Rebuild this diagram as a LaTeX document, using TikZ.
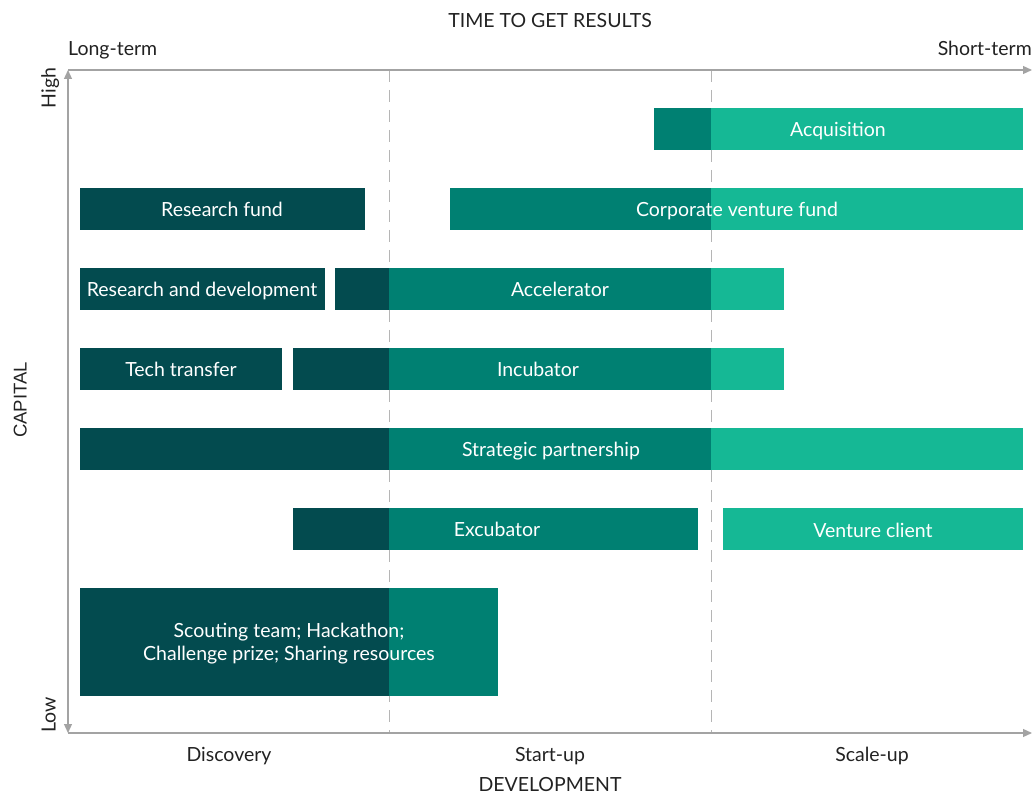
\documentclass[tikz,border=0pt]{standalone}
\usepackage{fontspec}
\setmainfont{Lato}
\newfontfamily\capfont{Liberation Sans}
\usetikzlibrary{arrows.meta}

\definecolor{deepteal}{HTML}{034B4F}
\definecolor{midteal}{HTML}{008072}
\definecolor{lightteal}{HTML}{15B895}
\definecolor{axisgrey}{HTML}{A3A3A3}
\definecolor{textgrey}{HTML}{222222}

\tikzset{
  axisline/.style={draw=axisgrey,line width=1.2pt},
  phaseline/.style={draw=axisgrey!80,line width=1pt,dash pattern=on 12pt off 8pt},
  barlabel/.style={text=white,font=\fontsize{19.5}{23}\selectfont,text height=15pt,text depth=0pt,inner sep=0pt},
  axislabel/.style={text=textgrey,font=\fontsize{19.5}{23}\selectfont,text height=15pt,text depth=0pt,inner sep=0pt},
}

\begin{document}
\begin{tikzpicture}[x=1pt,y=-1pt]
\useasboundingbox (0,0) rectangle (1034,794);

\coordinate (o) at (68,733);
\coordinate (top) at (68,70);
\coordinate (tr) at (1032,70);
\coordinate (br) at (1032,733);
\coordinate (d1t) at (389,70);
\coordinate (d1b) at (389,733);
\coordinate (d2t) at (711,70);
\coordinate (d2b) at (711,733);

% phases
\draw[phaseline] (d1t) -- (d1b);
\draw[phaseline] (d2t) -- (d2b);

% bars
\fill[midteal] (654,108) rectangle (711,150);
\fill[lightteal] (711,108) rectangle (1023,150);
\node[barlabel] (acq) at (838,129) {Acquisition};

\fill[deepteal] (80,188) rectangle (365,230);
\node[barlabel] (rfund) at (222,209) {Research fund};
\fill[midteal] (450,188) rectangle (711,230);
\fill[lightteal] (711,188) rectangle (1023,230);
\node[barlabel] (cvf) at (737,209) {Corporate venture fund};

\fill[deepteal] (80,268) rectangle (325,310);
\node[barlabel] (rnd) at (202,289) {Research and development};
\fill[deepteal] (335,268) rectangle (389,310);
\fill[midteal] (389,268) rectangle (711,310);
\fill[lightteal] (711,268) rectangle (784,310);
\node[barlabel] (acc) at (560,289) {Accelerator};

\fill[deepteal] (80,348) rectangle (282,390);
\node[barlabel] (tech) at (181,369) {Tech transfer};
\fill[deepteal] (293,348) rectangle (389,390);
\fill[midteal] (389,348) rectangle (711,390);
\fill[lightteal] (711,348) rectangle (784,390);
\node[barlabel] (inc) at (538,369) {Incubator};

\fill[deepteal] (80,428) rectangle (389,470);
\fill[midteal] (389,428) rectangle (711,470);
\fill[lightteal] (711,428) rectangle (1023,470);
\node[barlabel] (strat) at (551,449) {Strategic partnership};

\fill[deepteal] (293,508) rectangle (389,550);
\fill[midteal] (389,508) rectangle (698,550);
\node[barlabel] (exc) at (497,529) {Excubator};
\fill[lightteal] (723,508) rectangle (1023,550);
\node[barlabel] (vclient) at (873,530) {Venture client};

\fill[deepteal] (80,588) rectangle (389,696);
\fill[midteal] (389,588) rectangle (498,696);
\node[barlabel,align=center,text height=,text depth=] (scout) at (289,644) {Scouting team; Hackathon;\\Challenge prize; Sharing resources};

% axes
\draw[axisline,-{Triangle[length=9pt,width=8pt]}] (top) -- (tr);
\draw[axisline,-{Triangle[length=9pt,width=8pt]}] (o) -- (br);
\draw[axisline,{Triangle[length=9pt,width=8pt]}-{Triangle[length=9pt,width=8pt]}] (o) -- (top);

% texts
\node[axislabel] (time) at (550,20) {TIME TO GET RESULTS};
\node[axislabel,anchor=west] (long) at (68,48) {Long-term};
\node[axislabel,anchor=east] (short) at (1032,48) {Short-term};
\node[axislabel,rotate=90] (high) at (48,88) {High};
\node[axislabel,rotate=90] (low) at (48,715) {Low};
\node[axislabel,rotate=90,font=\capfont\fontsize{18.5}{22}\selectfont,text height=13.3pt] (cap) at (20,400) {CAPITAL};
\node[axislabel] (disc) at (229,754) {Discovery};
\node[axislabel] (start) at (550,754) {Start-up};
\node[axislabel] (scale) at (872,754) {Scale-up};
\node[axislabel] (dev) at (550,784) {DEVELOPMENT};

\end{tikzpicture}
\end{document}
